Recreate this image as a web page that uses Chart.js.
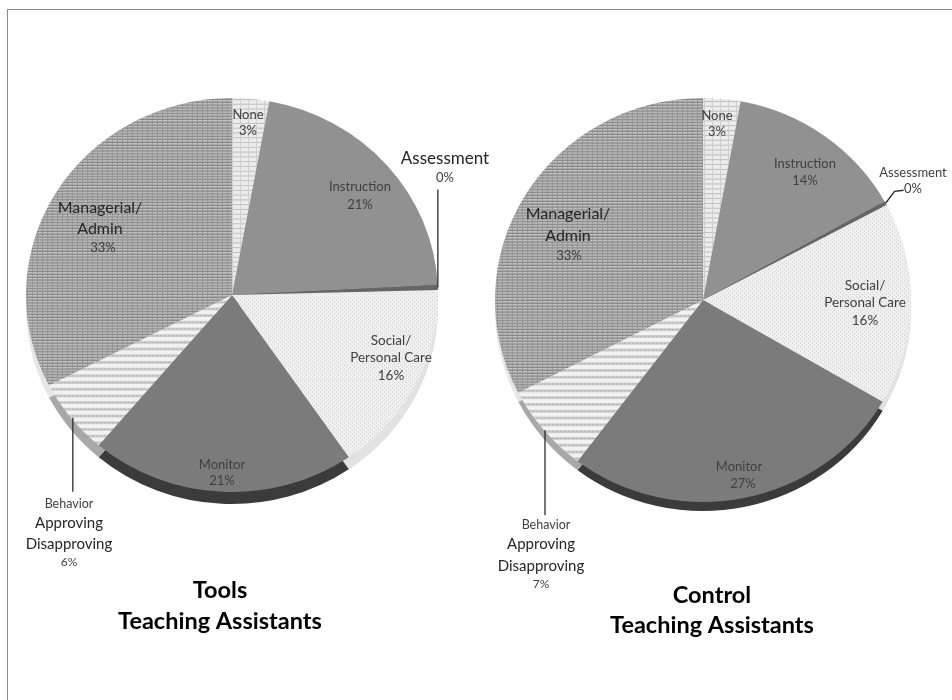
<!DOCTYPE html>
<html>
<head>
<meta charset="utf-8">
<title>Teaching Assistants</title>
<script src="https://cdn.jsdelivr.net/npm/chart.js@4"></script>
<style>
  html, body { margin: 0; padding: 0; background: #fff; width: 952px; height: 700px; overflow: hidden; }
  #frame { position: absolute; left: 7px; top: 9px; width: 950px; height: 700px; border-left: 1px solid #8c8c8c; border-top: 1px solid #8c8c8c; }
  canvas { position: absolute; left: 0; top: 0; }
</style>
</head>
<body>
<div id="frame"></div>
<canvas id="toolsRim" width="952" height="700"></canvas>
<canvas id="toolsFace" width="952" height="700"></canvas>
<canvas id="controlRim" width="952" height="700"></canvas>
<canvas id="controlFace" width="952" height="700"></canvas>
<script>
const sliceNames = ["None", "Instruction", "Assessment", "Social/ Personal Care", "Monitor", "Behavior Approving Disapproving", "Managerial/ Admin"];
const sliceLines = [["None"], ["Instruction"], ["Assessment"], ["Social/", "Personal Care"], ["Monitor"], ["Behavior", "Approving", "Disapproving"], ["Managerial/", "Admin"]];
const toolsValues = [2.9, 21.3, 0.4, 15.8, 20.8, 6.2, 32.6];
const controlValues = [2.9, 14.0, 0.3, 16.2, 26.9, 7.1, 32.6];
const toolsTitle = ["Tools", "Teaching Assistants"];
const controlTitle = ["Control", "Teaching Assistants"];
const rimColors = ["#eeeeee", "#666666", "#555555", "#e2e2e2", "#3b3b3b", "#a8a8a8", "#e6e6e6"];

// [x, y, font size] for each text line of a slice, the last one is the percent
const toolsSpots = [
    [[248, 115, 13], [248, 131, 13]],
    [[360, 187, 13], [360, 205, 13]],
    [[445, 159, 17], [445, 178, 13]],
    [[391, 341, 13.5], [391, 358, 13.5], [391, 376, 13.5]],
    [[222, 465, 13], [222, 481, 13]],
    [[69, 504, 12.5], [69, 523, 15], [69, 544, 15], [69, 562, 12]],
    [[100, 208, 16], [100, 229, 16], [103, 248, 13]]
];
const controlSpots = [
    [[717, 116, 13], [717, 132, 13]],
    [[805, 164, 13], [805, 181, 13]],
    [[913, 173, 13], [913, 189, 13]],
    [[865, 286, 13.5], [865, 303, 13.5], [865, 321, 13.5]],
    [[739, 467, 13], [743, 484, 13]],
    [[546, 525, 12.5], [541, 544, 15], [541, 566, 15], [541, 584, 12]],
    [[568, 214, 16], [568, 236, 16], [569, 256, 13]]
];

function makeTile(w, h, bg, marks) {
    const c = document.createElement("canvas");
    c.width = w;
    c.height = h;
    const t = c.getContext("2d");
    t.fillStyle = bg;
    t.fillRect(0, 0, w, h);
    marks.forEach(m => {
        t.fillStyle = m[0];
        t.fillRect(m[1], m[2], m[3], m[4]);
    });
    return t.createPattern(c, "repeat");
}

const faceColors = [
    makeTile(8, 5, "#ececec", [["#bdbdbd", 0, 0, 8, 1], ["#cfcfcf", 0, 0, 1, 5]]),
    "#919191",
    "#666666",
    makeTile(4, 4, "#f0f0f0", [["#cbcbcb", 0, 0, 1, 1], ["#cbcbcb", 2, 2, 1, 1]]),
    "#7b7b7b",
    makeTile(4, 7, "#f2f2f2", [["#cdcdcd", 0, 0, 4, 3], ["#b4b4b4", 0, 1, 2, 1]]),
    makeTile(5, 3, "#c6c6c6", [["#868686", 0, 0, 5, 1], ["#969696", 2, 1, 1, 1], ["#a8a8a8", 0, 2, 5, 1]])
];

// the reference pies are slightly flattened
const squeeze = {
    id: "squeeze",
    beforeDatasetsDraw(chart, args, opts) {
        const ctx = chart.ctx;
        ctx.save();
        ctx.translate(0, opts.cy);
        ctx.scale(1, opts.k);
        ctx.translate(0, -opts.cy);
    },
    afterDatasetsDraw(chart) {
        chart.ctx.restore();
    }
};

function edgePoint(chart, i, k) {
    const arc = chart.getDatasetMeta(0).data[i];
    const a = (arc.startAngle + arc.endAngle) / 2;
    return { x: arc.x + Math.cos(a) * arc.outerRadius, y: arc.y + Math.sin(a) * arc.outerRadius * k };
}

const labelPlugin = {
    id: "sliceLabels",
    afterDraw(chart, args, opts) {
        const ctx = chart.ctx;
        ctx.save();
        opts.leaders.forEach(l => {
            const p = edgePoint(chart, l.slice, opts.k);
            const nudge = l.nudge || 0;
            ctx.strokeStyle = "#2b2b2b";
            ctx.lineWidth = 1.3;
            ctx.beginPath();
            ctx.moveTo(p.x + nudge, p.y);
            l.path.forEach(q => ctx.lineTo(p.x + nudge + q[0], p.y + q[1]));
            ctx.stroke();
        });
        ctx.textAlign = "center";
        ctx.textBaseline = "middle";
        sliceLines.forEach((lines, i) => {
            const spots = opts.spots[i];
            lines.concat(Math.round(opts.values[i]) + "%").forEach((text, j) => {
                const s = spots[j];
                ctx.font = s[2] + "px Lato";
                ctx.fillStyle = s[2] > 14 ? "#262626" : "#404040";
                ctx.fillText(text, s[0], s[1]);
            });
        });
        ctx.font = "bold 23.5px Lato";
        ctx.fillStyle = "#000";
        opts.title.forEach((text, j) => ctx.fillText(text, opts.titleX, opts.titleY + j * opts.titleGap));
        ctx.restore();
    }
};

function drawPie(id, values, colors, g, extra) {
    const top = g.cy - g.r + (g.shift || 0);
    new Chart(document.getElementById(id), {
        type: "pie",
        data: {
            labels: sliceNames,
            datasets: [{ data: values, backgroundColor: colors, borderWidth: 0 }]
        },
        options: {
            responsive: false,
            animation: false,
            layout: { padding: { left: g.cx - g.r, right: 952 - g.cx - g.r, top: top, bottom: 700 - top - 2 * g.r } },
            plugins: {
                legend: { display: false },
                tooltip: { enabled: false },
                squeeze: { cy: g.cy + (g.shift || 0), k: g.k },
                sliceLabels: extra || false
            }
        },
        plugins: extra ? [squeeze, labelPlugin] : [squeeze]
    });
}

const toolsGeom = { cx: 232, cy: 295, r: 206, k: 197 / 206 };
const controlGeom = { cx: 703, cy: 300, r: 208, k: 202 / 208 };

document.fonts.load("16px Lato").finally(function() {
    drawPie("toolsRim", toolsValues, rimColors, { ...toolsGeom, shift: 12 });
    drawPie("toolsFace", toolsValues, faceColors, toolsGeom, {
        values: toolsValues, spots: toolsSpots, k: toolsGeom.k,
        title: toolsTitle, titleX: 220, titleY: 590, titleGap: 31,
        leaders: [{ slice: 2, path: [[0, -98]] }, { slice: 5, nudge: 2, path: [[0, 74]] }]
    });
    drawPie("controlRim", controlValues, rimColors, { ...controlGeom, shift: 9 });
    drawPie("controlFace", controlValues, faceColors, controlGeom, {
        values: controlValues, spots: controlSpots, k: controlGeom.k,
        title: controlTitle, titleX: 712, titleY: 595, titleGap: 30,
        leaders: [{ slice: 2, path: [[9, -12], [18, -13]] }, { slice: 5, nudge: 1, path: [[0, 85]] }]
    });
});
</script>
</body>
</html>
